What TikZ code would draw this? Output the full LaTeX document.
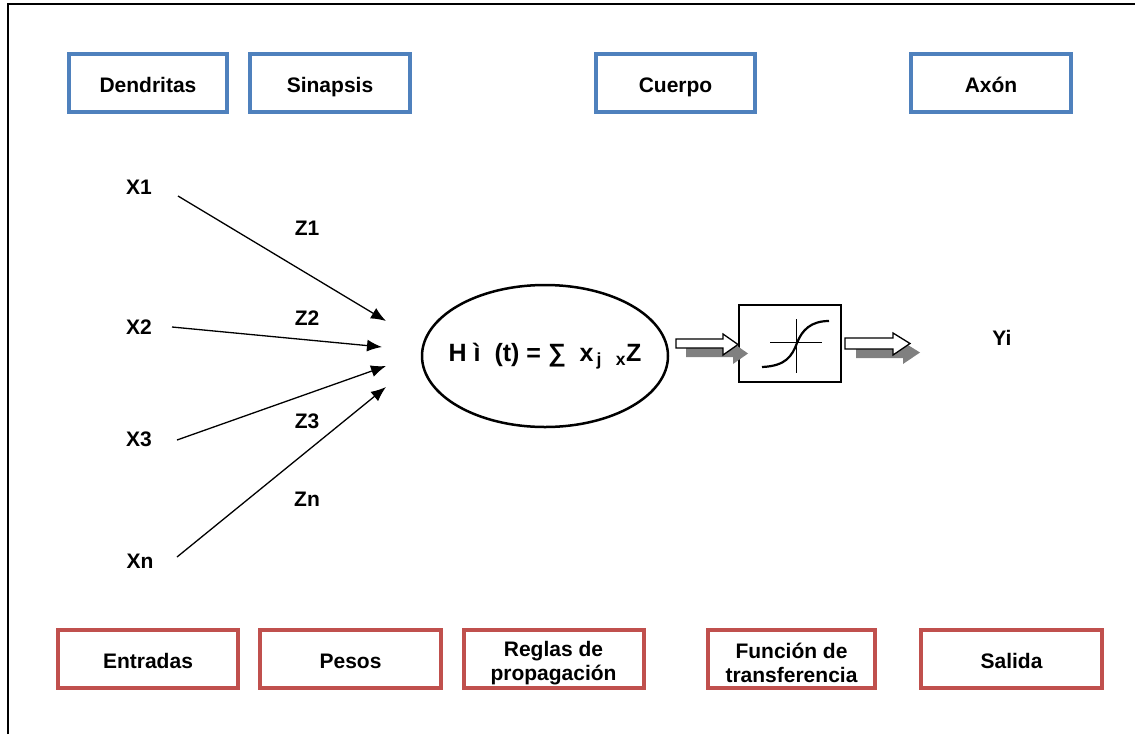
\documentclass[tikz,border=0pt]{standalone}
\usepackage{fontspec}
\setmainfont{Liberation Sans}
\usetikzlibrary{arrows.meta,shapes.geometric}
\definecolor{boxblue}{RGB}{79,129,189}
\definecolor{boxred}{RGB}{192,80,77}
\definecolor{shadowgray}{RGB}{128,128,128}
\newcommand{\toppad}{\rule{0pt}{23pt}}
\tikzset{
  lbl/.style={font=\fontsize{21}{24}\selectfont\bfseries, inner sep=0pt},
  framed/.style={line width=4pt, minimum height=58pt, inner sep=0pt, align=center,
               font=\fontsize{21}{24}\selectfont\bfseries},
  oneline/.style={text height=22pt, text depth=4pt},
  part/.style={framed, oneline, draw=boxblue},
  role/.style={framed, draw=boxred},
  weight/.style={line width=1.3pt, -{Latex[length=15pt,width=12pt]}},
  hollow/.style={draw=black, fill=white, line width=1.3pt},
  shade/.style={fill=shadowgray, draw=none},
}
\begin{document}
\begin{tikzpicture}[x=1pt, y=-1pt]
\useasboundingbox (0,0) rectangle (1135,734);
% frame
\draw[line width=2pt] (8,734) -- (8,4) -- (1135,4);

% anatomy labels
\node[part, minimum width=158pt] (dend) at (148,83) {Dendritas};
\node[part, minimum width=160pt] (sin)  at (330,83) {Sinapsis};
\node[part, minimum width=159pt] (cue)  at (675.5,83) {Cuerpo};
\node[part, minimum width=160pt] (axo)  at (991,83) {Axón};

% model labels
\node[role, oneline, minimum width=180pt] (ent) at (148,659) {Entradas};
\node[role, oneline, minimum width=181pt] (pes) at (350.5,659) {Pesos};
\node[role, minimum width=180pt] (reg) at (553.5,659) {\toppad Reglas de\\propagación};
\node[role, minimum width=167pt] (fun) at (791.5,659) {\toppad Función de\\transferencia};
\node[role, oneline, minimum width=181pt] (sal) at (1011.5,659) {Salida};

% inputs
\node[lbl] (x1) at (139,187) {X1};
\node[lbl] (x2) at (139,327) {X2};
\node[lbl] (x3) at (139,439) {X3};
\node[lbl] (xn) at (140,561) {Xn};

% weights
\node[lbl] (z1) at (307,228) {Z1};
\node[lbl] (z2) at (307,318) {Z2};
\node[lbl] (z3) at (307,421) {Z3};
\node[lbl] (zn) at (307,499) {Zn};

% summation body
\node[draw, line width=2.5pt, ellipse, minimum width=246pt, minimum height=142pt, inner sep=0pt] (body) at (545,356) {};
\node[font=\fontsize{25}{28}\selectfont\bfseries, inner sep=0pt] (rule) at (body.center)
  {H ì\ \ (t) = ∑\ \ x\textsubscript{\,j}\ \ \textsubscript{x}Z};

\coordinate (e1) at (386,321);
\coordinate (e2) at (382,347);
\coordinate (e3) at (386,366);
\coordinate (e4) at (386,387);
\draw[weight] ([xshift=39pt,yshift=-9pt]x1.center) -- (e1);
\draw[weight] ([xshift=33pt]x2.center) -- (e2);
\draw[weight] ([xshift=38pt,yshift=-1pt]x3.center) -- (e3);
\draw[weight] ([xshift=37pt,yshift=4pt]xn.center) -- (e4);

% transfer function block
\node[draw, line width=1.2pt, minimum width=102pt, minimum height=77pt, inner sep=0pt] (tf) at (790,343.5) {};
\draw[line width=1pt] (770,342) -- (822,342);
\draw[line width=1pt] (796,319) -- (796,373);
\draw[line width=2.2pt] (762,367) .. controls (786,366) and (792,356) .. (797,343)
  .. controls (802,330) and (811,321) .. (829,321);

% block arrows with drop shadows
\fill[shade] (686,348) -- (733,348) -- (733,343) -- (748,353.5) -- (733,364) -- (733,357) -- (686,357) -- cycle;
\draw[hollow] (676,339) -- (723,339) -- (723,334) -- (738,344.5) -- (723,355) -- (723,348) -- (676,348) -- cycle;
\fill[shade] (856,347) -- (903,347) -- (903,342) -- (920,352.5) -- (903,364) -- (903,358) -- (856,358) -- cycle;
\draw[hollow] (845,338) -- (893,338) -- (893,333) -- (910,343.5) -- (893,355) -- (893,349) -- (845,349) -- cycle;

% output
\node[lbl] (yi) at (1002,338) {Yi};
\end{tikzpicture}
\end{document}
